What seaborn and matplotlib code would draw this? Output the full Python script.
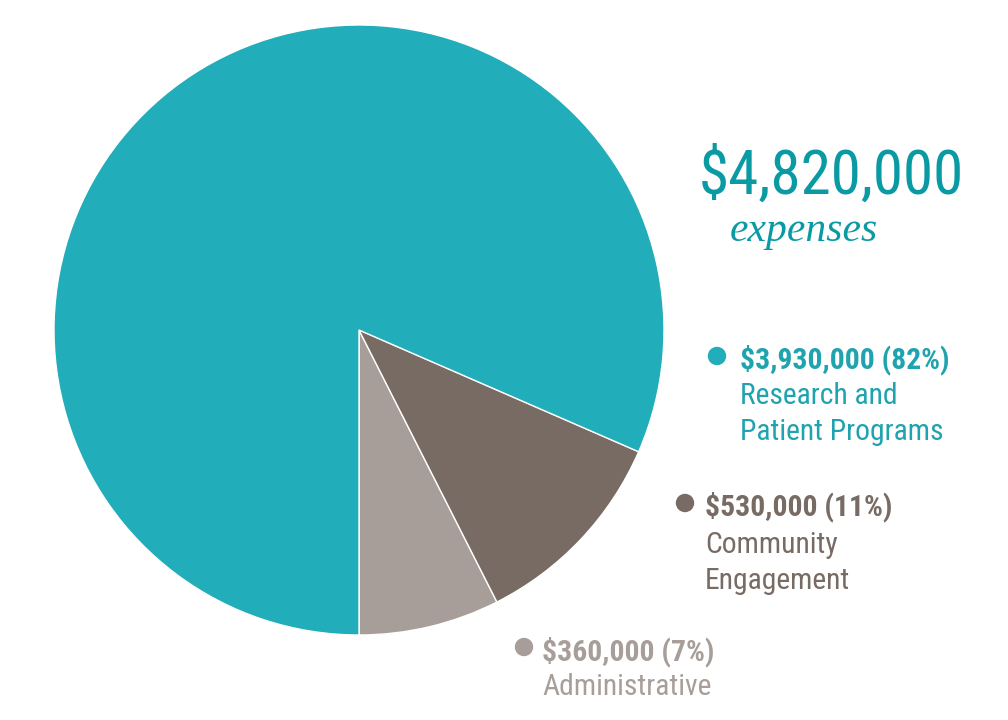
import matplotlib
matplotlib.use("Agg")
import matplotlib.pyplot as plt
import seaborn as sns
from matplotlib import font_manager

categories = ["Administrative", "Community\nEngagement", "Research and\nPatient Programs"]
values = [360000, 530000, 3930000]
percents = ["7%", "11%", "82%"]
colors = ["#A89E99", "#776B63", "#21ADB9"]
total_label = "$4,820,000"
subtitle = "expenses"

sns.set_theme(style="white")
available = {f.name for f in font_manager.fontManager.ttflist}
cond = [f for f in ["Roboto Condensed", "Liberation Sans Narrow", "Roboto", "DejaVu Sans"] if f in available]
plt.rcParams["font.family"] = cond

W, H = 1008, 720
fig = plt.figure(figsize=(W / 100, H / 100), dpi=100)
fig.patch.set_facecolor("white")

# pie axes: center (359,330), radius 305 px
cx, cy, r = 359, 330, 305
ax = fig.add_axes([(cx - r) / W, 1 - (cy + r) / H, 2 * r / W, 2 * r / H])
ax.pie(values, colors=colors, startangle=-90, counterclock=True,
       wedgeprops=dict(edgecolor="white", linewidth=1))
ax.set_xlim(-1, 1)
ax.set_ylim(-1, 1)
ax.set_aspect("equal")
ax.axis("off")

def T(x, y, s, **kw):
    fig.text(x / W, 1 - y / H, s, va="baseline", ha="left", **kw)

T(699, 194, total_label.replace("$", r"\$"), fontsize=44, color="#0A9AA3")
T(730, 241, subtitle, fontsize=30, color="#0A9AA3", family="Liberation Serif", style="italic")

# legend blocks: (dot x, dot y, text x, baselines)
layout = {
    2: (717, 356, 740, [368, 404, 440]),
    1: (685, 503, 705, [515, 553, 589]),
    0: (524, 647, 542, [660, 695]),
}
for i, (dx, dy, tx, bls) in layout.items():
    fig.patches.append(matplotlib.patches.Ellipse((dx / W, 1 - dy / H), 17 / W, 17 / H,
                                                  transform=fig.transFigure, color=colors[i]))
    head = f"\\${values[i]:,} ({percents[i]})"
    tcol = "#1FA3AE" if i == 2 else colors[i]
    T(tx, bls[0], head, fontsize=21.3, weight="bold", color=tcol)
    for line, bl in zip(categories[i].split("\n"), bls[1:]):
        T(tx, bl, line, fontsize=21.3, color=tcol)

fig.savefig("out.png", dpi=100)
